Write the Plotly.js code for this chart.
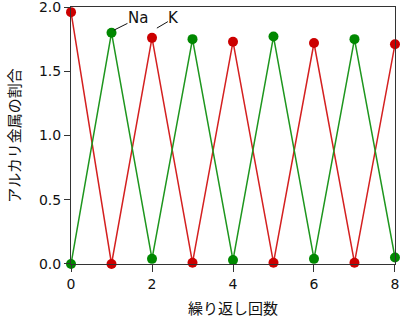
<!DOCTYPE html>
<html><head><meta charset="utf-8">
<script src="https://cdn.plot.ly/plotly-3.0.1.min.js"></script>
<style>html,body{margin:0;padding:0;background:#fff}#c{width:400px;height:319px}</style>
</head><body><div id="c"></div>
<script>
const cycles = [0,1,2,3,4,5,6,7,8];
const naValues = [0.00,1.80,0.04,1.75,0.03,1.77,0.04,1.75,0.05];
const kValues  = [1.96,0.00,1.76,0.01,1.73,0.01,1.72,0.01,1.71];
const xTicks = [0,2,4,6,8];
const yTicks = [0,0.5,1.0,1.5,2.0];
const yTickText = ['0.0','0.5','1.0','1.5','2.0'];

const traces = [
  {x: cycles, y: kValues, mode:'lines+markers', name:'K', cliponaxis:false,
   line:{color:'#d42020', width:1.5}, marker:{color:'#cc0000', size:10}},
  {x: cycles, y: naValues, mode:'lines+markers', name:'Na', cliponaxis:false,
   line:{color:'#1e961e', width:1.5}, marker:{color:'#008800', size:10}}
];
const layout = {
  width:400, height:319, showlegend:false,
  margin:{l:71, r:5, t:7, b:55},
  paper_bgcolor:'#fff', plot_bgcolor:'#fff',
  font:{family:'DejaVu Sans, sans-serif', size:14, color:'#111'},
  xaxis:{range:[-0.0005,8.0005], tickvals:xTicks, ticks:'outside', ticklen:7, tickcolor:'#333',
    showgrid:false, zeroline:false, showline:true, linecolor:'#333', mirror:true, linewidth:1,
    title:{text:'繰り返し回数', font:{family:'Noto Sans CJK JP', size:15}, standoff:12}},
  yaxis:{range:[-0.0002,2.0002], tickvals:yTicks, ticktext:yTickText, ticks:'outside', ticklen:6, tickcolor:'#333',
    ticklabeloverflow:'allow',
    showgrid:false, zeroline:false, showline:true, linecolor:'#333', mirror:true, linewidth:1,
    title:{text:'アルカリ金属の割合', font:{family:'Noto Sans CJK JP', size:15}, standoff:14}},
  annotations:[
    {x:1.06, y:1.82, ax:24, ay:-12, text:'Na', showarrow:true, arrowhead:0, arrowwidth:1, arrowcolor:'#111',
     borderpad:0, font:{family:'DejaVu Sans, sans-serif', size:15, color:'#111'}},
    {x:2.12, y:1.836, ax:17, ay:-10, text:'K', showarrow:true, arrowhead:0, arrowwidth:1, arrowcolor:'#111',
     borderpad:0, font:{family:'DejaVu Sans, sans-serif', size:15, color:'#111'}}
  ]
};
Plotly.newPlot('c', traces, layout, {staticPlot:true, displayModeBar:false});
</script></body></html>
